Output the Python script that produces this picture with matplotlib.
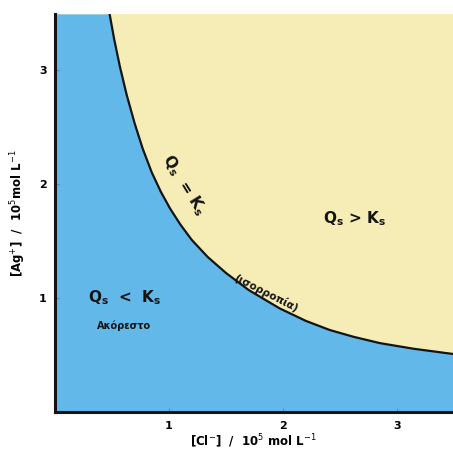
import numpy as np
import matplotlib.pyplot as plt

# points read along the Qs = Ks boundary curve
curve_x = [0.48, 0.52, 0.57, 0.63, 0.70, 0.77, 0.85, 0.93, 1.01, 1.10,
           1.20, 1.34, 1.50, 1.70, 1.97, 2.20, 2.41, 2.62, 2.85, 3.15, 3.49]
curve_y = [3.49, 3.27, 3.03, 2.78, 2.53, 2.31, 2.10, 1.93, 1.785, 1.645,
           1.51, 1.36, 1.22, 1.07, 0.91, 0.80, 0.72, 0.66, 0.605, 0.555, 0.51]

ticks = [1, 2, 3]
tick_labels = ["1", "2", "3"]

blue = "#62b9e9"
yellow = "#f5ecb6"
ink = "#141414"

fig = plt.figure(figsize=(4.53, 4.49), dpi=100)
ax = fig.add_axes([0.121, 0.082, 0.879, 0.887])
xmax, ymax = 3.49, 3.49
ax.set_xlim(0, xmax)
ax.set_ylim(0, ymax)

cx = np.array(curve_x)
cy = np.array(curve_y)
ax.set_facecolor(yellow)
ax.fill_between(np.r_[0, cx], 0, np.r_[ymax, cy], color=blue, lw=0)
ax.plot(cx, cy, color=ink, lw=1.6, solid_joinstyle="round")

for s in ["top", "right"]:
    ax.spines[s].set_visible(False)
for s in ["left", "bottom"]:
    ax.spines[s].set_linewidth(2.2)
    ax.spines[s].set_color(ink)

ax.set_xticks(ticks)
ax.set_xticklabels(tick_labels, fontweight="bold", fontsize=8)
ax.set_yticks(ticks)
ax.set_yticklabels(tick_labels, fontweight="bold", fontsize=8)
ax.tick_params(direction="in", length=3, color="#4a90b8", pad=6)

ax.set_xlabel("[Cl$^{-}$]  /  10$^{5}$ mol L$^{-1}$", fontweight="bold",
              fontsize=8.5, labelpad=1)
ax.set_ylabel("[Ag$^{+}$]  /  10$^{5}$mol L$^{-1}$", fontweight="bold",
              fontsize=8.5, labelpad=8)

ax.text(0.61, 1.0, "Q$_\\mathbf{s}$  <  K$_\\mathbf{s}$", fontsize=11,
        fontweight="bold", ha="center", va="center", color=ink)
ax.text(0.61, 0.76, "Ακόρεστο", fontsize=7, fontweight="bold",
        ha="center", va="center", color=ink)
ax.text(2.63, 1.70, "Q$_\\mathbf{s}$ > K$_\\mathbf{s}$", fontsize=11,
        fontweight="bold", ha="center", va="center", color=ink)
ax.text(1.13, 1.99, "Q$_\\mathbf{s}$  = K$_\\mathbf{s}$", fontsize=11,
        fontweight="bold", ha="center", va="center", color=ink,
        rotation=-58)
ax.text(1.85, 1.04, "(ισορροπία)", fontsize=7.5, fontweight="bold",
        ha="center", va="center", color=ink, rotation=-27)

fig.savefig("out.png", dpi=100)
